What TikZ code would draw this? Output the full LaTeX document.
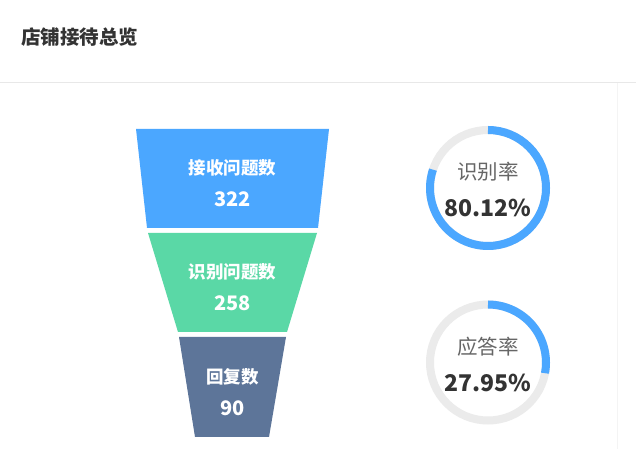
\documentclass[tikz,border=0pt]{standalone}
\usepackage{fontspec}
\setmainfont{Noto Sans CJK SC}
\definecolor{tcol}{HTML}{333333}
\definecolor{lgray}{HTML}{666666}
\definecolor{linegray}{HTML}{E8E8E8}
\definecolor{faintgray}{HTML}{F4F4F4}
\definecolor{fblue}{HTML}{4BA7FF}
\definecolor{fgreen}{HTML}{5AD8A6}
\definecolor{fslate}{HTML}{5D7599}
\definecolor{ringgray}{HTML}{EBEBEB}
\tikzset{
  flabel/.style={text=white, font=\bfseries\fontsize{17.5}{20}\selectfont, inner sep=0pt},
  fnum/.style={text=white, font=\bfseries\fontsize{20}{24}\selectfont, inner sep=0pt},
  rlabel/.style={text=lgray, font=\fontsize{20.5}{24}\selectfont, inner sep=0pt},
  rnum/.style={text=tcol, font=\bfseries\fontsize{23}{28}\selectfont, inner sep=0pt},
  ringbase/.style={circle, draw=ringgray, line width=8pt, minimum size=116pt, inner sep=0pt, outer sep=0pt},
  ringarc/.style={draw=fblue, line width=8pt}
}
\begin{document}
\begin{tikzpicture}[x=1pt,y=1pt]
\useasboundingbox (0,0) rectangle (636,449);
\fill[white] (0,0) rectangle (636,449);
% header
\node[anchor=west, inner sep=0pt, text=tcol, font=\bfseries\fontsize{19.5}{24}\selectfont] (title) at (21,412) {店铺接待总览};
\draw[linegray, line width=1pt] (0,366) -- (636,366);
\draw[faintgray, line width=1pt] (617,366) -- (617,0);
% funnel
\fill[fblue] (136,320) -- (329,320) -- (318,221) -- (147,221) -- cycle;
\fill[fgreen] (148,216) -- (317,216) -- (287,117) -- (178,117) -- cycle;
\fill[fslate] (179,112) -- (286,112) -- (269,12) -- (195,12) -- cycle;
\node[flabel] (l1) at (232.5,281) {接收问题数};
\node[fnum] (n1) at (232.5,250) {322};
\node[flabel] (l2) at (232.5,177) {识别问题数};
\node[fnum] (n2) at (232.5,146) {258};
\node[flabel] (l3) at (232.5,72) {回复数};
\node[fnum] (n3) at (232.5,41) {90};
% rings
\node[ringbase] (r1) at (488,261) {};
\draw[ringarc] (r1.north) arc[start angle=90, end angle=-198.43, radius=58pt];
\node[rlabel] (rl1) at (488,277) {识别率};
\node[rnum] (rn1) at (488,241) {80.12\%};
\node[ringbase] (r2) at (488,86.5) {};
\draw[ringarc] (r2.north) arc[start angle=90, end angle=-10.62, radius=58pt];
\node[rlabel] (rl2) at (488,102) {应答率};
\node[rnum] (rn2) at (488,66) {27.95\%};
\end{tikzpicture}
\end{document}
